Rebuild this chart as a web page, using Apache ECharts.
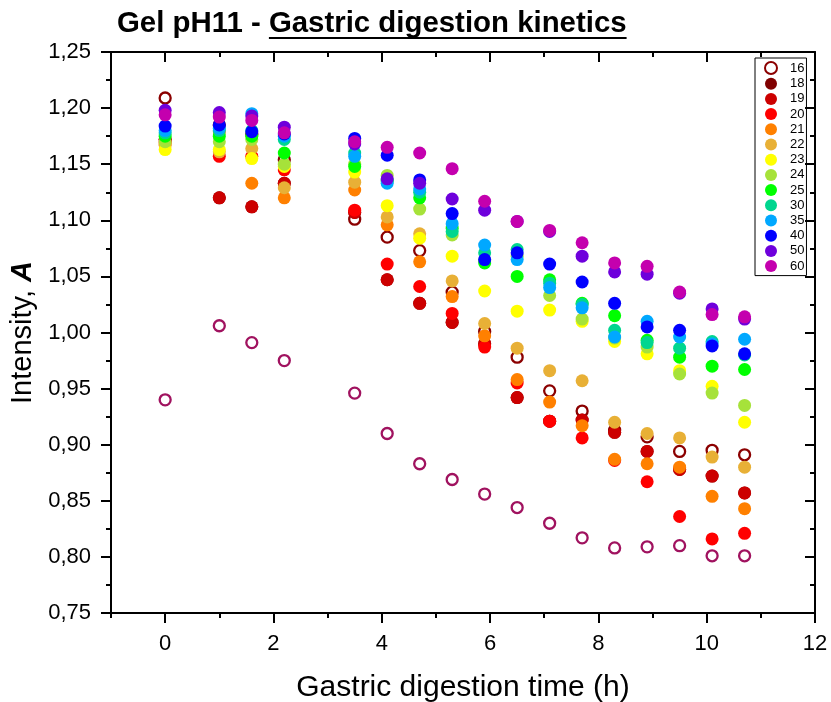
<!DOCTYPE html>
<html><head><meta charset="utf-8">
<script src="https://cdn.jsdelivr.net/npm/echarts@6/dist/echarts.min.js"></script>
<style>html,body{margin:0;padding:0;background:#fff}#c{width:831px;height:702px}</style>
</head><body><div id="c"></div>
<script>
// ---- data ----
const times = [0, 1, 1.6, 2.2, 3.5, 4.1, 4.7, 5.3, 5.9, 6.5, 7.1, 7.7, 8.3, 8.9, 9.5, 10.1, 10.7];
const seriesNames = ['16','18','19','20','21','22','23','24','25','30','35','40','50','60'];
const s16 = [1.209, 1.185, 1.177, 1.154, 1.101, 1.085, 1.073, 1.036, 1.001, 0.978, 0.948, 0.930, 0.913, 0.907, 0.894, 0.895, 0.891];
const s18 = [1.172, 1.120, 1.112, 1.133, 1.107, 1.047, 1.026, 1.009, 0.990, 0.942, 0.921, 0.922, 0.911, 0.894, 0.878, 0.872, 0.857];
const s19 = [1.172, 1.120, 1.112, 1.133, 1.107, 1.047, 1.026, 1.009, 0.990, 0.942, 0.921, 0.922, 0.911, 0.894, 0.878, 0.872, 0.857];
const s20 = [1.170, 1.157, 1.157, 1.145, 1.109, 1.061, 1.041, 1.017, 0.987, 0.955, 0.921, 0.906, 0.886, 0.867, 0.836, 0.816, 0.821];
const s21 = [1.168, 1.179, 1.133, 1.120, 1.127, 1.096, 1.063, 1.032, 0.997, 0.958, 0.938, 0.917, 0.887, 0.883, 0.880, 0.854, 0.843];
const s22 = [1.167, 1.161, 1.164, 1.129, 1.134, 1.103, 1.088, 1.046, 1.008, 0.986, 0.966, 0.957, 0.920, 0.910, 0.906, 0.889, 0.880];
const s23 = [1.163, 1.163, 1.155, 1.148, 1.143, 1.113, 1.084, 1.068, 1.037, 1.019, 1.020, 1.010, 0.992, 0.981, 0.966, 0.952, 0.920];
const s24 = [1.170, 1.170, 1.172, 1.150, 1.150, 1.140, 1.110, 1.087, 1.064, 1.068, 1.033, 1.012, 0.995, 0.987, 0.963, 0.946, 0.935];
const s25 = [1.175, 1.175, 1.175, 1.160, 1.148, 1.135, 1.120, 1.093, 1.062, 1.050, 1.047, 1.026, 1.015, 0.993, 0.978, 0.970, 0.967];
const s30 = [1.178, 1.180, 1.180, 1.172, 1.160, 1.136, 1.125, 1.090, 1.071, 1.074, 1.044, 1.025, 1.002, 0.991, 0.986, 0.992, 0.980];
const s35 = [1.180, 1.182, 1.195, 1.175, 1.157, 1.133, 1.128, 1.097, 1.078, 1.065, 1.040, 1.022, 0.996, 1.010, 0.996, 0.990, 0.994];
const s40 = [1.184, 1.185, 1.179, 1.177, 1.173, 1.158, 1.136, 1.106, 1.065, 1.071, 1.061, 1.045, 1.026, 1.005, 1.002, 0.988, 0.981];
const s50 = [1.198, 1.196, 1.193, 1.183, 1.168, 1.137, 1.133, 1.119, 1.109, 1.099, 1.090, 1.068, 1.054, 1.052, 1.035, 1.021, 1.012];
const s60 = [1.194, 1.192, 1.189, 1.178, 1.170, 1.165, 1.160, 1.146, 1.117, 1.099, 1.091, 1.080, 1.062, 1.059, 1.036, 1.016, 1.014];
// extra open-circle series below (its legend entry is not visible in the reference)
const sLow = [0.940, 1.006, 0.991, 0.975, 0.946, 0.910, 0.883, 0.869, 0.856, 0.844, 0.830, 0.817, 0.808, 0.809, 0.810, 0.801, 0.801];
const xMajorTicks = [0, 2, 4, 6, 8, 10, 12];
const titleA = 'Gel pH11 - ';
const titleB = 'Gastric digestion kinetics';

// ---- styling ----
const FONT = 'Liberation Sans';
const colors = ['#8B0000','#800000','#CC0000','#FF0000','#FF8000','#E8B036','#FFFF00','#A6E23A','#00FF00','#00D68F','#00A8FF','#0000FF','#6E00DC','#C400AE'];
const values = [s16,s18,s19,s20,s21,s22,s23,s24,s25,s30,s35,s40,s50,s60];
const pair = arr => times.map((t,i)=>[t, arr[i]]);

const series = [{
  type:'scatter', name:'low', data: pair(sLow), symbol:'circle', symbolSize:11,
  itemStyle:{color:'#fff', borderColor:'#A0125F', borderWidth:2.3, opacity:1},
  emphasis:{disabled:true}, xAxisIndex:0, yAxisIndex:0
}];
seriesNames.forEach((n,k)=>{
  const ring = k === 0;
  series.push({
    type:'scatter', name:n, data: pair(values[k]), symbol:'circle',
    symbolSize: ring ? 11 : 13,
    itemStyle: ring ? {color:'#fff', borderColor:colors[k], borderWidth:2.3, opacity:1}
                    : {color:colors[k], opacity:1},
    emphasis:{disabled:true}, xAxisIndex:0, yAxisIndex:0
  });
});

const ctx = document.createElement('canvas').getContext('2d');
const titleFont = 'bold 29.4px "Liberation Sans"';
ctx.font = titleFont;
const wA = ctx.measureText(titleA).width, wB = ctx.measureText(titleB).width;
const titleLeft = 117;

const black = {color:'#000', width:2};
const gridRect = {left:111, right:16, top:52, bottom:89, outerBoundsMode:'none', containLabel:false};
const yFmt = v => v.toFixed(2).replace('.', ',');

const option = {
  animation:false,
  backgroundColor:'#fff',
  grid:[Object.assign({}, gridRect), Object.assign({}, gridRect)],
  graphic:[
    {type:'text', left:titleLeft, top:9, style:{text:titleA+titleB, font:titleFont, fill:'#000'}},
    {type:'rect', shape:{x:titleLeft+wA, y:37, width:wB, height:2}, style:{fill:'#000'}}
  ],
  legend:{
    orient:'vertical', left:755, top:58, data:seriesNames,
    itemWidth:12, itemHeight:12, itemGap:2.2,
    padding:[3,2,3,9], borderColor:'#000', borderWidth:1,
    textStyle:{fontFamily:FONT, fontSize:13, color:'#000', lineHeight:12, padding:[0,0,0,8]}
  },
  xAxis:[
    {type:'value', gridIndex:0, position:'bottom', min:-1, max:12,
     axisLine:{show:true, onZero:false, lineStyle:black},
     axisTick:{show:true, customValues:xMajorTicks, length:10, lineStyle:black},
     axisLabel:{customValues:xMajorTicks, fontFamily:FONT, fontSize:22, color:'#000', margin:20},
     splitLine:{show:false},
     name:'Gastric digestion time (h)', nameLocation:'middle', nameGap:60,
     nameTextStyle:{fontFamily:FONT, fontSize:30, color:'#000'}},
    {type:'value', gridIndex:0, position:'top', min:-1, max:12,
     axisLine:{show:true, onZero:false, lineStyle:black},
     axisTick:{show:true, inside:true, customValues:xMajorTicks, length:10, lineStyle:black},
     axisLabel:{show:false}, splitLine:{show:false}},
    {type:'value', gridIndex:1, position:'bottom', min:-1, max:12, interval:1,
     axisLine:{show:false, onZero:false},
     axisTick:{show:true, length:5, lineStyle:black},
     axisLabel:{show:false}, splitLine:{show:false}},
    {type:'value', gridIndex:1, position:'top', min:-1, max:12, interval:1,
     axisLine:{show:false, onZero:false},
     axisTick:{show:true, inside:true, length:5, lineStyle:black},
     axisLabel:{show:false}, splitLine:{show:false}}
  ],
  yAxis:[
    {type:'value', gridIndex:0, position:'left', min:0.75, max:1.25, interval:0.05,
     axisLine:{show:true, onZero:false, lineStyle:black},
     axisTick:{show:true, length:10, lineStyle:black},
     minorTick:{show:true, splitNumber:2, length:5, lineStyle:black},
     axisLabel:{formatter:yFmt, fontFamily:FONT, fontSize:22, color:'#000', margin:20},
     splitLine:{show:false}, minorSplitLine:{show:false},
     name:'Intensity, {b|A}', nameLocation:'middle', nameGap:61, nameRotate:90,
     nameTextStyle:{fontFamily:FONT, fontSize:29, color:'#000',
       rich:{b:{fontFamily:FONT, fontSize:29, fontWeight:'bold', fontStyle:'italic', color:'#000'}}}},
    {type:'value', gridIndex:0, position:'right', min:0.75, max:1.25, interval:0.05,
     axisLine:{show:true, onZero:false, lineStyle:black},
     axisTick:{show:true, inside:true, length:10, lineStyle:black},
     minorTick:{show:true, splitNumber:2, length:5, lineStyle:black},
     axisLabel:{show:false}, splitLine:{show:false}},
    {type:'value', gridIndex:1, min:0.75, max:1.25, show:false}
  ],
  series: series
};
const chart = echarts.init(document.getElementById('c'), null, {renderer:'canvas'});
chart.setOption(option);
</script>
</body></html>
